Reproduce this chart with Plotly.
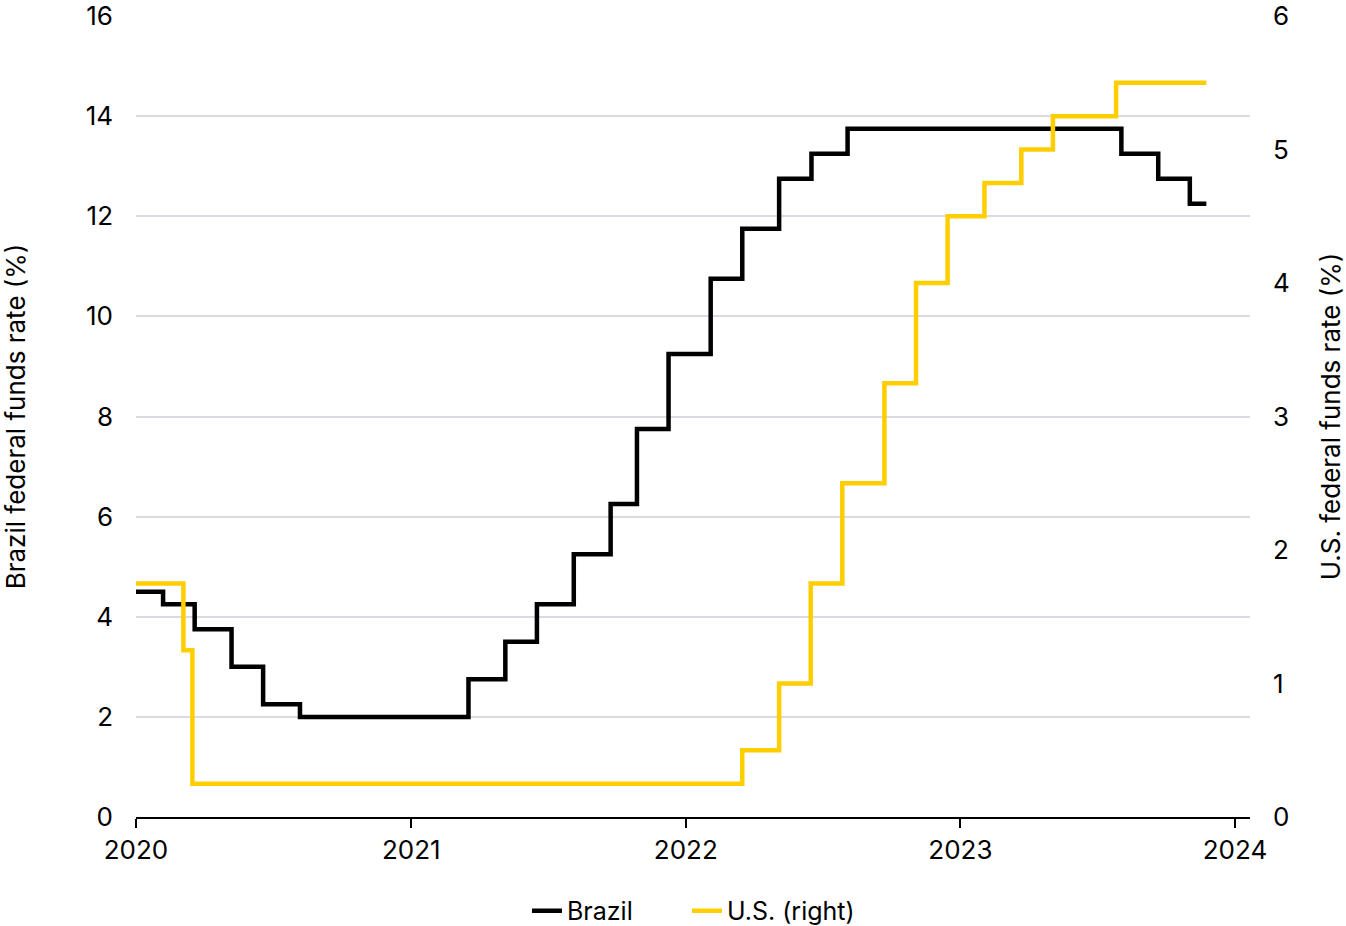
import plotly.graph_objects as go

# Brazil Selic rate (%), date of change -> new level
brazil_dates = ["2020-01-01", "2020-02-06", "2020-03-19", "2020-05-07", "2020-06-18", "2020-08-06",
                "2021-03-18", "2021-05-06", "2021-06-17", "2021-08-05", "2021-09-23", "2021-10-28",
                "2021-12-09", "2022-02-03", "2022-03-17", "2022-05-05", "2022-06-17", "2022-08-04",
                "2023-08-03", "2023-09-21", "2023-11-02", "2023-11-24"]
brazil_values = [4.5, 4.25, 3.75, 3.0, 2.25, 2.0,
                 2.75, 3.5, 4.25, 5.25, 6.25, 7.75,
                 9.25, 10.75, 11.75, 12.75, 13.25, 13.75,
                 13.25, 12.75, 12.25, 12.25]

# U.S. federal funds rate upper bound (%)
us_dates = ["2020-01-01", "2020-03-04", "2020-03-16", "2022-03-17", "2022-05-05", "2022-06-16",
            "2022-07-28", "2022-09-22", "2022-11-03", "2022-12-15", "2023-02-02", "2023-03-23",
            "2023-05-04", "2023-07-27", "2023-11-24"]
us_values = [1.75, 1.25, 0.25, 0.5, 1.0, 1.75,
             2.5, 3.25, 4.0, 4.5, 4.75, 5.0,
             5.25, 5.5, 5.5]

x_ticks = ["2020-01-01", "2021-01-01", "2022-01-01", "2023-01-01", "2024-01-01"]
x_labels = ["2020", "2021", "2022", "2023", "2024"]

FONT = "Inter, Roboto, Noto Sans, sans-serif"

fig = go.Figure()
fig.add_trace(go.Scatter(x=brazil_dates, y=brazil_values, name="Brazil", mode="lines",
                         line=dict(color="#000000", width=4.5, shape="hv"), legend="legend"))
fig.add_trace(go.Scatter(x=us_dates, y=us_values, name="U.S. (right)", mode="lines",
                         line=dict(color="#FFCE00", width=4.5, shape="hv"), yaxis="y2",
                         legend="legend2"))

leg_common = dict(orientation="h", xref="container", yref="container", y=0.0162,
                  xanchor="left", yanchor="middle", font=dict(size=25),
                  bgcolor="rgba(0,0,0,0)")

fig.update_layout(
    template="none",
    width=1346, height=926,
    margin=dict(l=136, r=96, t=16, b=109),
    plot_bgcolor="white", paper_bgcolor="white",
    font=dict(family=FONT, size=26, color="#000000"),
    showlegend=True,
    legend=dict(leg_common, x=0.3915),
    legend2=dict(leg_common, x=0.5104),
    xaxis=dict(range=["2020-01-01", "2024-01-21"], tickvals=x_ticks, ticktext=x_labels,
               showgrid=False, showline=True, linecolor="#000000", linewidth=2,
               ticks="outside", ticklen=9, tickwidth=2, tickcolor="#000000",
               zeroline=False, tickfont=dict(size=26), automargin=False),
    yaxis=dict(range=[0, 16], tickvals=[0, 2, 4, 6, 8, 10, 12, 14, 16],
               showgrid=True, gridcolor="#DADAE2", gridwidth=2, zeroline=False,
               showline=False, ticks="", ticklabelstandoff=22, automargin=False,
               tickfont=dict(size=26),
               title=dict(text="Brazil federal funds rate (%)", font=dict(size=26), standoff=66)),
    yaxis2=dict(range=[0, 6], tickvals=[0, 1, 2, 3, 4, 5, 6], overlaying="y", side="right",
                showgrid=False, zeroline=False, showline=False, ticks="", ticklabelstandoff=22,
                automargin=False, tickfont=dict(size=26),
                title=dict(text="U.S. federal funds rate (%)", font=dict(size=26), standoff=36)),
)

# remove the default 8px page margin so the figure fills the window exactly
fig.write_html("out.html", config={"displayModeBar": False},
               post_script="document.body.style.margin='0px';")
